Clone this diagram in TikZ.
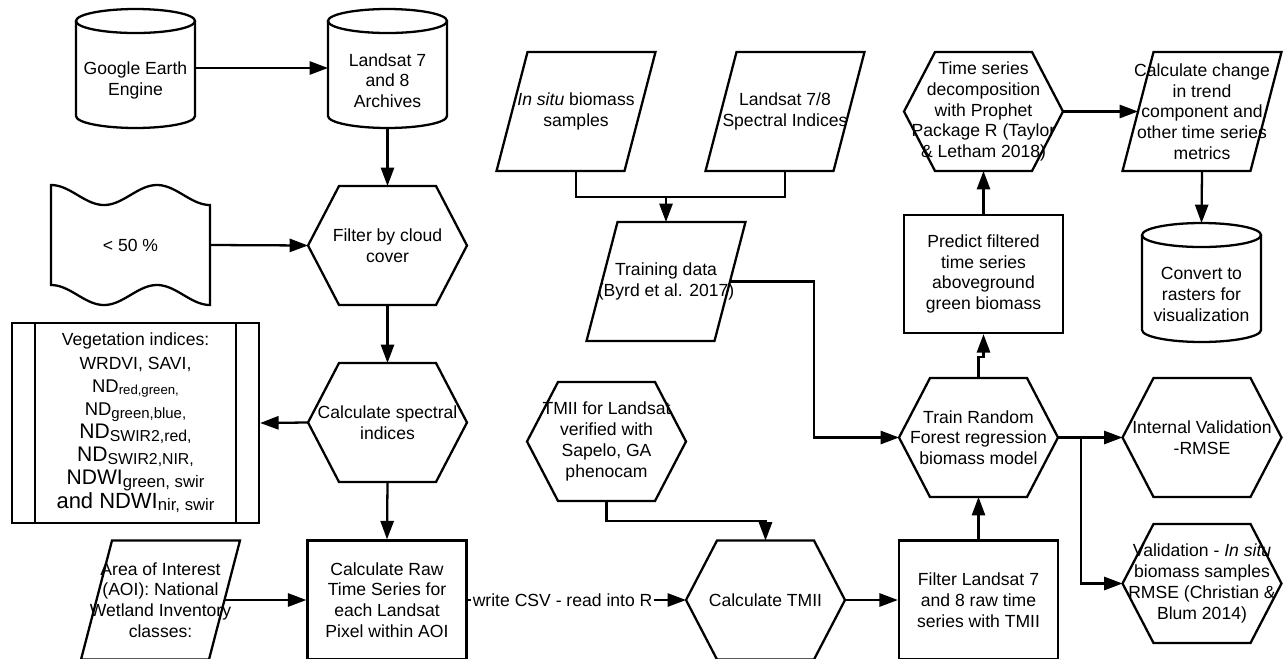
\documentclass[tikz,border=0pt]{standalone}
\usepackage{fontspec}
\setmainfont{Liberation Sans}
\usetikzlibrary{arrows.meta}
\tikzset{hexa/.style={minimum width=3.18cm,minimum height=2.38cm,inner sep=0pt,outer sep=0pt,align=center},
         para/.style={hexa},
         cyl/.style={minimum width=2.38cm,minimum height=1.9cm,inner sep=0pt,outer sep=0pt,align=center},
         tapebox/.style={hexa,minimum height=2.4cm},
         procbox/.style={draw,line width=1.3pt,minimum width=3.18cm,minimum height=2.38cm,inner sep=0pt,align=center},
         outline/.style={line width=1.3pt,line join=miter}
}
\tikzstyle{arrow} = [line width=1.3pt,-{Triangle[length=10.5pt,width=7.5pt]}]
\newcommand{\lowsub}[2]{\raisebox{-1.5pt}{\fontsize{#1}{#1}\selectfont #2}}

\begin{document}
\begin{tikzpicture}[x=0.02cm,y=-0.02cm,font=\fontsize{10}{11.8}\selectfont]
\useasboundingbox (0,0) rectangle (1288,659);

% left column
\node[cyl] (gee) at (135.5,80.5) {Google Earth\\Engine};
\node[cyl] (archives) at (387.5,80.5) {Landsat 7\\and 8\\Archives};
\node[tapebox] (cloud) at (130.5,245) {< 50 \%};
\node[hexa] (filtercloud) at (387.5,245.5) {Filter by cloud\\cover};
\node[hexa] (spectral) at (387.5,422.5) {Calculate spectral\\indices};
\node[procbox,minimum width=4.94cm,minimum height=4cm,font=\fontsize{10}{13.2}\selectfont] (vegidx) at (135.5,423) {Vegetation indices:\\
  WRDVI, SAVI,\\
  {\fontsize{10.5}{13}\selectfont ND}\lowsub{7.5}{red,green,}\\
  {\fontsize{10.5}{13}\selectfont ND}\lowsub{8.5}{green,blue,}\\
  {\fontsize{12}{13}\selectfont ND}\lowsub{9}{SWIR2,red,}\\
  {\fontsize{12}{13}\selectfont ND}\lowsub{9}{SWIR2,NIR,}\\
  {\fontsize{12}{13}\selectfont NDWI}\lowsub{9.5}{green, swir}\\
  {\fontsize{12.5}{13}\selectfont and NDWI}\lowsub{9.5}{nir, swir}};
\node[para] (aoi) at (160.5,600) {Area of Interest\\(AOI): National\\Wetland Inventory\\classes:};
\node[procbox] (rawts) at (387,600) {Calculate Raw\\Time Series for\\each Landsat\\Pixel within AOI};

% middle column
\node[para] (insitu) at (576,111.5) {\textit{In situ} biomass\\samples};
\node[para] (specidx) at (785,111.5) {Landsat 7/8\\Spectral Indices};
\node[para] (training) at (666,281.5) {Training data\\(Byrd et al. 2017)};
\node[hexa] (tmiiref) at (606.5,441.5) {TMII for Landsat\\verified with\\Sapelo, GA\\phenocam};
\node[hexa] (calctmii) at (765.5,600) {Calculate TMII};

% right columns
\node[procbox] (filterts) at (978.5,600) {Filter Landsat 7\\and 8 raw time\\series with TMII};
\node[hexa] (trainrf) at (978.5,437.5) {Train Random\\Forest regression\\biomass model};
\node[procbox,minimum height=2.36cm] (predict) at (983.5,274) {Predict filtered\\time series\\aboveground\\green biomass};
\node[hexa] (decomp) at (983.5,111.5) {Time series\\decomposition\\with Prophet\\Package R (Taylor\\\& Letham 2018)};
\node[para] (change) at (1202,111.5) {Calculate change\\in trend\\component and\\other time series\\metrics};
\node[cyl] (rasters) at (1201.5,294.5) {Convert to\\rasters for\\visualization};
\node[hexa] (intval) at (1202,437.5) {Internal Validation\\-RMSE};
\node[hexa] (valid) at (1202,583.5) {Validation - \textit{In situ}\\biomass samples\\RMSE (Christian \&\\Blum 2014)};

% outlines
\foreach \n in {filtercloud,spectral,tmiiref,calctmii,trainrf,decomp,intval,valid}
  \draw[outline] (\n.west) -- ([xshift=0.62cm]\n.north west) -- ([xshift=-0.62cm]\n.north east) -- (\n.east)
    -- ([xshift=-0.62cm]\n.south east) -- ([xshift=0.62cm]\n.south west) -- cycle;
\foreach \n in {aoi,insitu,specidx,training,change}
  \draw[outline] ([xshift=0.62cm]\n.north west) -- (\n.north east) -- ([xshift=-0.62cm]\n.south east) -- (\n.south west) -- cycle;
\foreach \n in {gee,archives,rasters}{
  \draw[outline] ([yshift=0.24cm]\n.north west) -- ([yshift=0.24cm]\n.south west)
    arc[start angle=180,end angle=360,x radius=1.19cm,y radius=0.24cm] -- ([yshift=0.24cm]\n.north east);
  \draw[outline] ([yshift=0.24cm]\n.north) ellipse[x radius=1.19cm,y radius=0.24cm];
}
\draw[outline,shift={(cloud.north west)}] plot[domain=0:159,samples=60] (\x,{10-10*cos(3.396*\x)})
  -- plot[domain=159:0,samples=60] (\x,{110-10*cos(3.396*\x)}) -- cycle;
\draw[outline] ([xshift=0.48cm]vegidx.north west) -- ([xshift=0.48cm]vegidx.south west);
\draw[outline] ([xshift=-0.48cm]vegidx.north east) -- ([xshift=-0.48cm]vegidx.south east);

% connectors
\draw[arrow] ([yshift=0.25cm]gee.east) -- ([yshift=0.25cm]archives.west);
\draw[arrow] (archives.south) -- (filtercloud.north);
\draw[arrow] (cloud.east) -- (filtercloud.west);
\draw[arrow] (filtercloud.south) -- (spectral.north);
\draw[arrow] (spectral.west) -- (vegidx.east);
\draw[arrow] (spectral.south) -- (rawts.north);
\draw[arrow] ([xshift=-0.31cm]aoi.east) -- (rawts.west);
\draw[arrow] (rawts.east) -- node[pos=0.435,fill=white,inner sep=1pt] {write CSV - read into R} (calctmii.west);
\coordinate (merge) at (666,197);
\draw[outline] (insitu.south) |- (merge) -| (specidx.south);
\draw[arrow] (merge) -- (training.north);
\draw[arrow] ([xshift=-0.31cm]training.east) -- ++(84,0) |- (trainrf.west);
\draw[arrow] (tmiiref.south) -- ++(0,20) -| (calctmii.north);
\draw[arrow] (calctmii.east) -- (filterts.west);
\draw[arrow] (filterts.north) -- (trainrf.south);
\draw[arrow] (trainrf.north) -- ++(0,-21) -| (predict.south);
\draw[arrow] (predict.north) -- (decomp.south);
\draw[arrow] (decomp.east) -- ([xshift=0.31cm]change.west);
\draw[arrow] (change.south) -- ([yshift=0.48cm]rasters.north);
\draw[arrow] (trainrf.east) -- (intval.west);
\draw[arrow] (trainrf.east) -- ++(23,0) |- (valid.west);

\end{tikzpicture}
\end{document}
